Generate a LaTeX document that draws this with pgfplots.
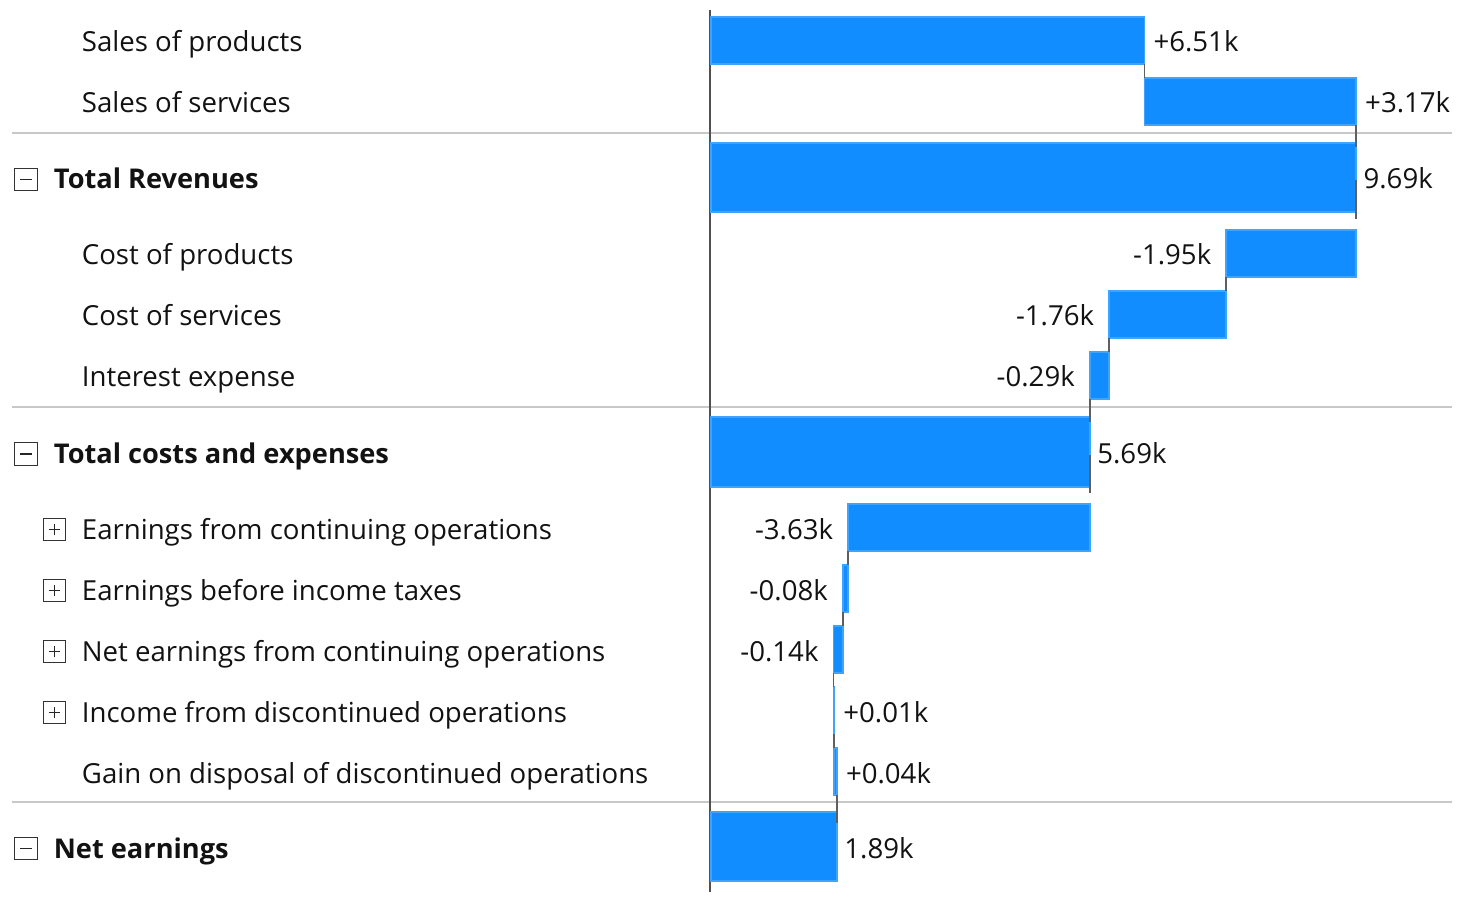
\documentclass[border=0pt]{standalone}
\usepackage{fontspec}
\setmainfont{Open Sans}
\usepackage{pgfplots}
\pgfplotsset{compat=1.18}
\definecolor{barfill}{RGB}{17,141,255}
\definecolor{baredge}{RGB}{62,164,255}
\definecolor{conn}{RGB}{95,95,95}
\definecolor{zeroln}{RGB}{80,80,80}
\definecolor{sep}{RGB}{200,200,200}
\definecolor{txt}{RGB}{18,18,18}
\tikzset{
  bar/.style={fill=barfill, draw=baredge, line width=0.8pt},
  conline/.style={draw=conn, line width=0.75pt, mark=none},
  sepline/.style={draw=sep, line width=1pt, mark=none},
  lab/.style={anchor=base west, inner sep=0pt, text=txt, font=\fontsize{13.8}{16}\selectfont},
  blab/.style={anchor=base west, inner sep=0pt, text=txt, font=\fontsize{13.6}{16}\selectfont\bfseries},
  vpos/.style={anchor=base west, inner sep=0pt, text=txt, xshift=4.4pt, font=\fontsize{13.8}{16}\selectfont},
  vtot/.style={anchor=base west, inner sep=0pt, text=txt, xshift=3.6pt, font=\fontsize{13.8}{16}\selectfont},
  vneg/.style={anchor=base east, inner sep=0pt, text=txt, xshift=-7.3pt, font=\fontsize{13.8}{16}\selectfont},
  boxm/.style={draw=black!80, line width=0.55pt, minimum size=11.4pt, inner sep=0pt,
    path picture={\draw[black!85, line width=0.55pt] ([xshift=-2.9pt]path picture bounding box.center) -- ([xshift=2.9pt]path picture bounding box.center);}},
  boxp/.style={draw=black!80, line width=0.55pt, minimum size=11.4pt, inner sep=0pt,
    path picture={\draw[black!85, line width=0.55pt] ([xshift=-2.9pt]path picture bounding box.center) -- ([xshift=2.9pt]path picture bounding box.center);
                  \draw[black!85, line width=0.55pt] ([yshift=-2.9pt]path picture bounding box.center) -- ([yshift=2.9pt]path picture bounding box.center);}},
}
\begin{document}
\begin{tikzpicture}[x=1pt,y=1pt]
\path[use as bounding box] (0,0) rectangle (731,451.5);
\begin{axis}[at={(0,0)}, anchor=south west, scale only axis,
  width=731pt, height=451.5pt,
  xmin=-10.6815, xmax=11.2824, ymin=0, ymax=903, y dir=reverse,
  axis lines=none, ticks=none, clip=false,
]
% separators
\addplot[sepline] coordinates {(-10.501,133) (11.132,133)};
\addplot[sepline] coordinates {(-10.501,407) (11.132,407)};
\addplot[sepline] coordinates {(-10.501,802) (11.132,802)};
% zero line
\addplot[draw=zeroln, line width=1pt, mark=none, xshift=-0.4pt] coordinates {(0,10) (0,892)};

% bars (start, end in k; top, bottom rows)
\addplot[bar] coordinates {(0,17) (6.51,17) (6.51,64) (0,64)} -- cycle;
\addplot[bar] coordinates {(6.51,78) (9.69,78) (9.69,125) (6.51,125)} -- cycle;
\addplot[bar] coordinates {(0,143) (9.69,143) (9.69,212) (0,212)} -- cycle;
\addplot[bar] coordinates {(7.74,230) (9.69,230) (9.69,277) (7.74,277)} -- cycle;
\addplot[bar] coordinates {(5.98,291) (7.74,291) (7.74,338) (5.98,338)} -- cycle;
\addplot[bar] coordinates {(5.69,352) (5.98,352) (5.98,399) (5.69,399)} -- cycle;
\addplot[bar] coordinates {(0,417) (5.69,417) (5.69,487) (0,487)} -- cycle;
\addplot[bar] coordinates {(2.06,504) (5.69,504) (5.69,551) (2.06,551)} -- cycle;
\addplot[bar] coordinates {(1.98,565) (2.06,565) (2.06,612) (1.98,612)} -- cycle;
\addplot[bar] coordinates {(1.84,626) (1.98,626) (1.98,673) (1.84,673)} -- cycle;
\addplot[bar] coordinates {(1.84,687) (1.85,687) (1.85,734) (1.84,734)} -- cycle;
\addplot[bar] coordinates {(1.85,748) (1.89,748) (1.89,795) (1.85,795)} -- cycle;
\addplot[bar] coordinates {(0,812) (1.89,812) (1.89,881) (0,881)} -- cycle;

% connectors
\addplot[conline] coordinates {(6.51,64) (6.51,78)};
\addplot[conline] coordinates {(9.69,125) (9.69,147)};
\addplot[conline] coordinates {(9.69,180) (9.69,219)};
\addplot[conline] coordinates {(7.74,277) (7.74,291)};
\addplot[conline] coordinates {(5.98,338) (5.98,352)};
\addplot[conline] coordinates {(5.69,399) (5.69,422)};
\addplot[conline] coordinates {(5.69,455) (5.69,493)};
\addplot[conline] coordinates {(2.06,551) (2.06,565)};
\addplot[conline] coordinates {(1.98,612) (1.98,626)};
\addplot[conline] coordinates {(1.84,673) (1.84,687)};
\addplot[conline] coordinates {(1.85,734) (1.85,748)};
\addplot[conline] coordinates {(1.89,795) (1.89,823)};

% category labels
\node[lab]  at (axis cs:-9.457,52)  {Sales of products};
\node[lab]  at (axis cs:-9.457,113) {Sales of services};
\node[blab] at (axis cs:-9.878,189) {Total Revenues};
\node[lab]  at (axis cs:-9.457,265) {Cost of products};
\node[lab]  at (axis cs:-9.457,326) {Cost of services};
\node[lab]  at (axis cs:-9.457,387) {Interest expense};
\node[blab] at (axis cs:-9.878,463.5) {Total costs and expenses};
\node[lab]  at (axis cs:-9.457,539) {Earnings from continuing operations};
\node[lab]  at (axis cs:-9.457,600) {Earnings before income taxes};
\node[lab]  at (axis cs:-9.457,661) {Net earnings from continuing operations};
\node[lab]  at (axis cs:-9.457,722) {Income from discontinued operations};
\node[lab]  at (axis cs:-9.457,783) {Gain on disposal of discontinued operations};
\node[blab] at (axis cs:-9.878,858) {Net earnings};

% expand / collapse boxes
\node[boxm] at (axis cs:-10.291,179.5) {};
\node[boxm] at (axis cs:-10.291,454) {};
\node[boxm] at (axis cs:-10.291,848.5) {};
\node[boxp] at (axis cs:-9.863,529.5) {};
\node[boxp] at (axis cs:-9.863,590.5) {};
\node[boxp] at (axis cs:-9.863,651.5) {};
\node[boxp] at (axis cs:-9.863,712.5) {};

% value labels
\node[vpos] at (axis cs:6.51,52)  {+6.51k};
\node[vpos] at (axis cs:9.69,113) {+3.17k};
\node[vtot] at (axis cs:9.69,189) {9.69k};
\node[vneg] at (axis cs:7.74,265) {-1.95k};
\node[vneg] at (axis cs:5.98,326) {-1.76k};
\node[vneg] at (axis cs:5.69,387) {-0.29k};
\node[vtot] at (axis cs:5.69,463.5) {5.69k};
\node[vneg] at (axis cs:2.06,539) {-3.63k};
\node[vneg] at (axis cs:1.98,600) {-0.08k};
\node[vneg] at (axis cs:1.84,661) {-0.14k};
\node[vpos] at (axis cs:1.85,722) {+0.01k};
\node[vpos] at (axis cs:1.89,783) {+0.04k};
\node[vtot] at (axis cs:1.89,858) {1.89k};
\end{axis}
\end{tikzpicture}
\end{document}
